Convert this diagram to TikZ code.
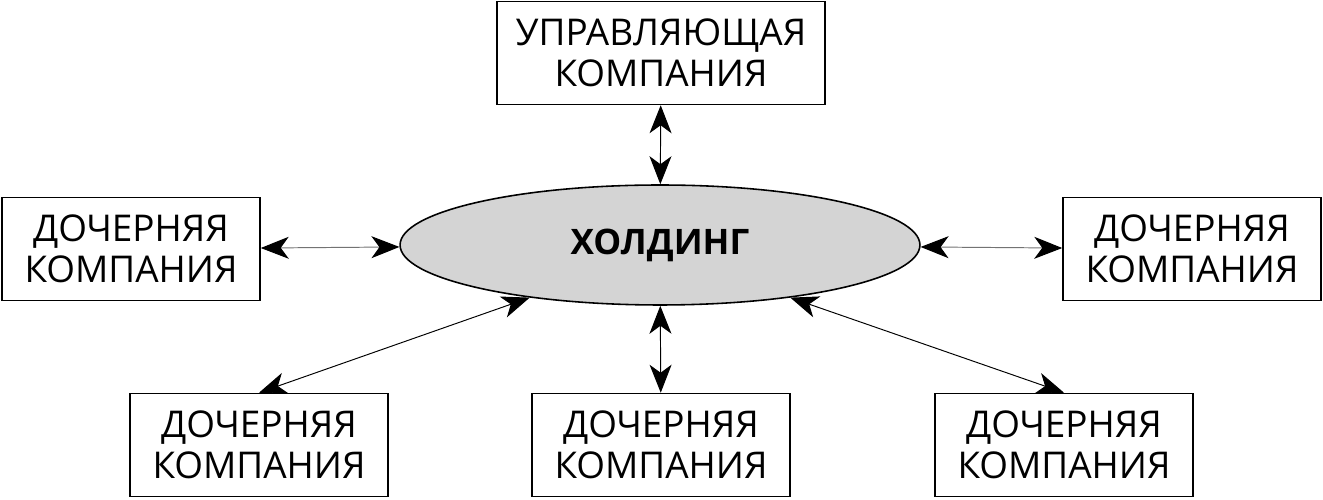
\documentclass[tikz,border=0pt]{standalone}
\usepackage{fontspec}
\setmainfont{Open Sans}
\usepackage{tikz}
\usetikzlibrary{arrows.meta}
\usetikzlibrary{shapes.geometric}

\definecolor{ovalgray}{RGB}{212,212,212}

\begin{document}
\begin{tikzpicture}[x=0.02cm, y=0.02cm,
  company/.style={draw, line width=0.9pt, align=center, inner sep=0pt,
    minimum width=5.16cm, minimum height=2.06cm,
    font=\fontsize{21}{23}\selectfont},
  link/.style={line width=0.55pt,
    {Stealth[length=0.56cm, width=0.44cm, inset=0.16cm, color=black]}-{Stealth[length=0.56cm, width=0.44cm, inset=0.16cm, color=black]}}]
\useasboundingbox (0,0) rectangle (1323,500);

% centre of the holding
\node[ellipse, draw, line width=0.9pt, fill=ovalgray, inner sep=0pt,
  minimum width=10.4cm, minimum height=2.4cm,
  font=\fontsize{20}{22}\selectfont\bfseries] (holding) at (660,255) {ХОЛДИНГ};

% managing company on top
\node[company, minimum width=6.56cm] (mgmt) at (661,447) {УПРАВЛЯЮЩАЯ\\КОМПАНИЯ};

% subsidiaries
\node[company] (subL) at (131,251) {ДОЧЕРНЯЯ\\КОМПАНИЯ};
\node[company] (subR) at (1192,251) {ДОЧЕРНЯЯ\\КОМПАНИЯ};
\node[company] (subBL) at (259,55) {ДОЧЕРНЯЯ\\КОМПАНИЯ};
\node[company] (subBM) at (661,55) {ДОЧЕРНЯЯ\\КОМПАНИЯ};
\node[company] (subBR) at (1064,55) {ДОЧЕРНЯЯ\\КОМПАНИЯ};

% links
\draw[link] (mgmt) -- (holding);
\draw[link, black!55] (subL) -- (holding);
\draw[link, black!55] (holding) -- (subR);
\draw[link] (holding) -- (subBM);
\draw[link] (holding.202) -- (subBL.north);
\draw[link] (holding.338) -- (subBR.north);
\end{tikzpicture}
\end{document}
